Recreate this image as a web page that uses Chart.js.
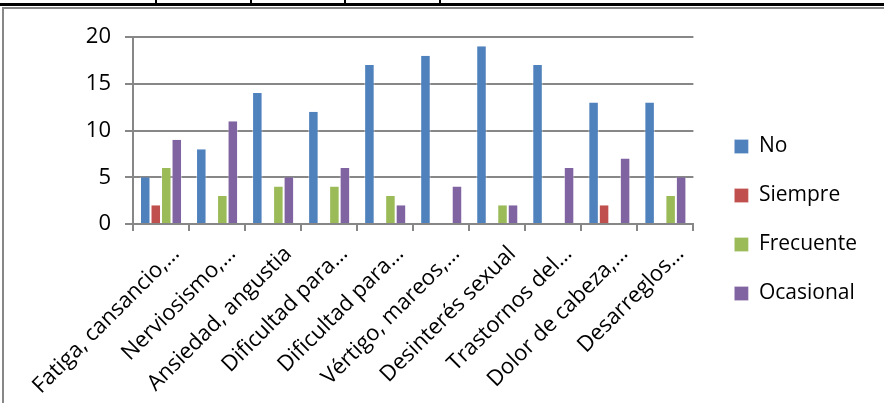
<!DOCTYPE html>
<html>
<head>
<meta charset="utf-8">
<script src="https://cdn.jsdelivr.net/npm/chart.js@4"></script>
<style>
  html, body { margin: 0; padding: 0; background: #fff; }
  body { width: 884px; height: 403px; position: relative; overflow: hidden; }
  .topline { position: absolute; left: 0; top: 3px; width: 884px; height: 3px; background: #000; }
  .col { position: absolute; top: 0; width: 2px; height: 5px; background: #000; }
  .frame { position: absolute; left: 2px; top: 7px; width: 900px; height: 410px;
           border-left: 2px solid #878787; border-top: 2px solid #878787; }
  #wrap { position: absolute; left: 0; top: 0; width: 884px; height: 403px; }
</style>
</head>
<body>
<div class="topline"></div>
<div class="col" style="left:155px"></div>
<div class="col" style="left:250px"></div>
<div class="col" style="left:344px"></div>
<div class="col" style="left:439px"></div>
<div class="frame"></div>
<div id="wrap"><canvas id="myChart"></canvas></div>
<script>
const categories = [
  "Fatiga, cansancio,…",
  "Nerviosismo,…",
  "Ansiedad, angustia",
  "Dificultad para…",
  "Dificultad para…",
  "Vértigo, mareos,…",
  "Desinterés sexual",
  "Trastornos del…",
  "Dolor de cabeza,…",
  "Desarreglos…",
];
const noValues = [5, 8, 14, 12, 17, 18, 19, 17, 13, 13];
const siempreValues = [2, 0, 0, 0, 0, 0, 0, 0, 2, 0];
const frecuenteValues = [6, 3, 4, 4, 3, 0, 2, 0, 0, 3];
const ocasionalValues = [9, 11, 5, 6, 2, 4, 2, 6, 7, 5];
const yTicks = [0, 5, 10, 15, 20];

const font = "'Open Sans', 'Liberation Sans', sans-serif";
const ctx = document.getElementById("myChart");

function series(label, data, color) {
  return {
    label: label,
    data: data,
    backgroundColor: color,
    borderColor: "rgba(255,255,255,0.45)",
    borderWidth: { left: 1, right: 1, top: 0, bottom: 0 },
    borderSkipped: false,
    categoryPercentage: 0.75,
    barPercentage: 1.0,
  };
}

// nudge the legend to where Excel put it
const legendShift = {
  id: "legendShift",
  afterLayout(chart) {
    const lg = chart.legend;
    lg.left += 13; lg.right += 13;
  },
};

new Chart(ctx, {
  type: "bar",
  data: {
    labels: categories,
    datasets: [
      series("No", noValues, "#4F81BD"),
      series("Siempre", siempreValues, "#C0504D"),
      series("Frecuente", frecuenteValues, "#9BBB59"),
      series("Ocasional", ocasionalValues, "#8064A2"),
    ],
  },
  plugins: [legendShift],
  options: {
    responsive: true,
    maintainAspectRatio: false,
    animation: false,
    layout: {
      padding: { left: 0, top: 37, right: 30, bottom: 0 },
    },
    plugins: {
      tooltip: { enabled: false },
      legend: {
        position: "right",
        align: "center",
        labels: {
          boxWidth: 14,
          boxHeight: 14,
          padding: 28,
          color: "#000",
          font: { family: font, size: 21 },
        },
      },
    },
    scales: {
      x: {
        offset: true,
        afterFit: (axis) => { axis.height = 179; },
        grid: {
          offset: true,
          drawOnChartArea: false,
          drawTicks: true,
          tickLength: 7,
          color: "#878787",
          lineWidth: 2,
        },
        border: { color: "#878787", width: 2 },
        ticks: {
          autoSkip: false,
          minRotation: 45,
          maxRotation: 45,
          padding: 10,
          labelOffset: 15,
          color: "#000",
          font: { family: font, size: 22 },
        },
      },
      y: {
        min: 0,
        max: 20,
        afterFit: (axis) => { axis.width = 133; },
        afterBuildTicks: (axis) => {
          axis.ticks = yTicks.map((v) => ({ value: v }));
        },
        grid: {
          color: "#878787",
          lineWidth: 2,
          tickLength: 8,
        },
        border: { color: "#878787", width: 2 },
        ticks: {
          padding: 14,
          color: "#000",
          font: { family: font, size: 22 },
        },
      },
    },
  },
});
</script>
</body>
</html>
